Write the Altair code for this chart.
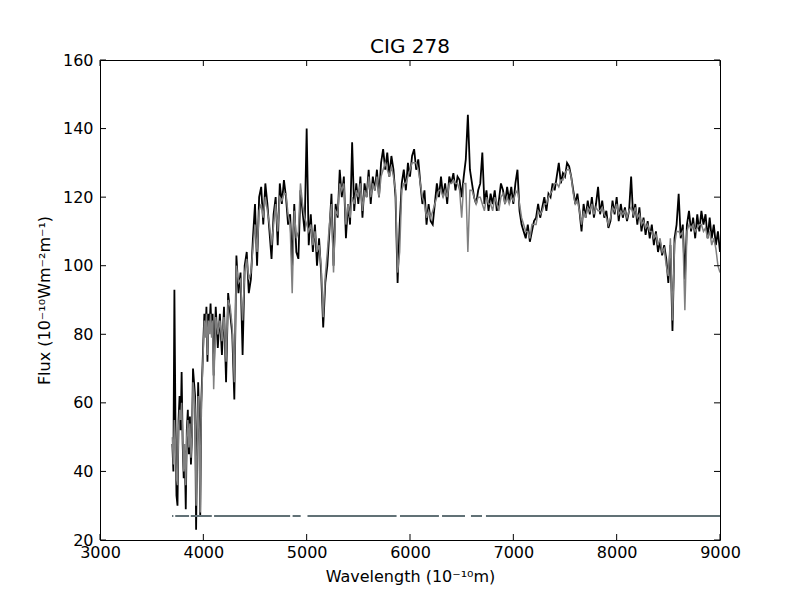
import altair as alt
import pandas as pd

# ---- spectrum data ----
wl_blue = list(range(3700, 4100, 10))
obs_blue = [48, 40, 93, 55, 33, 30, 55, 62, 52, 69,
            48, 38, 46, 29, 52, 58, 45, 56, 42, 50,
            70, 66, 62, 23, 48, 66, 55, 27, 60, 69,
            78, 86, 80, 88, 72, 86, 82, 89, 80, 86]
model_blue = [50, 42, 55, 48, 38, 36, 52, 58, 55, 60,
              50, 40, 48, 36, 50, 55, 47, 54, 44, 50,
              66, 63, 58, 30, 45, 62, 52, 28, 58, 67,
              76, 84, 79, 86, 74, 84, 80, 86, 79, 84]

wl_red = list(range(4100, 9001, 20))
obs_red = [
    68, 88, 76, 86, 74, 88, 66, 92, 86, 80,
    61, 103, 92, 98, 74, 100, 104, 92, 96, 108,
    118, 100, 120, 123, 112, 124, 118, 110, 102, 115,
    120, 106, 124, 118, 125, 120, 112, 115, 100, 118,
    104, 102, 122, 116, 110, 140, 106, 115, 104, 112,
    100, 108, 98, 82, 95, 100, 110, 121, 100, 118,
    114, 128, 120, 126, 108, 118, 112, 136, 116, 124,
    118, 126, 114, 124, 120, 128, 118, 126, 122, 128,
    120, 130, 134, 128, 133, 126, 132, 128, 120, 95,
    112, 124, 128, 122, 130, 126, 132, 134, 128, 131,
    124, 118, 122, 112, 118, 113, 112, 118, 124, 120,
    126, 120, 124, 118, 126, 124, 127, 122, 126, 125,
    120, 126, 131, 144, 128, 124, 120, 118, 122, 124,
    133, 118, 122, 116, 121, 118, 122, 116, 119, 124,
    122, 118, 123, 119, 123, 118, 124, 128, 116, 112,
    110, 108, 112, 107, 110, 113, 114, 118, 114, 117,
    120, 116, 121, 120, 124, 122, 126, 130, 124, 127,
    126, 130, 129, 126, 122, 118, 121, 116, 110, 118,
    114, 119, 115, 120, 114, 118, 123, 115, 119, 114,
    116, 111, 113, 119, 115, 120, 113, 118, 114, 117,
    113, 116, 126, 114, 118, 112, 117, 110, 114, 109,
    113, 108, 112, 106, 110, 104, 107, 103, 106, 102,
    95, 106, 81, 108, 112, 121, 108, 112, 96, 112,
    116, 110, 114, 108, 115, 110, 116, 112, 115, 108,
    114, 108, 112, 106, 110, 104]
model_red = [
    64, 85, 80, 84, 78, 85, 72, 90, 88, 82,
    66, 100, 95, 96, 84, 98, 102, 96, 98, 105,
    112, 104, 116, 118, 114, 120, 116, 112, 106, 112,
    118, 110, 120, 119, 121, 121, 115, 112, 92, 116,
    108, 110, 124, 118, 114, 112, 110, 112, 106, 110,
    104, 106, 100, 85, 97, 104, 112, 118, 98, 116,
    115, 124, 122, 124, 112, 118, 114, 120, 118, 122,
    120, 124, 116, 122, 120, 126, 120, 124, 122, 126,
    120, 126, 128, 130, 128, 126, 129, 126, 122, 98,
    104, 122, 124, 124, 126, 128, 130, 130, 130, 128,
    124, 120, 118, 114, 116, 114, 116, 118, 120, 122,
    122, 120, 122, 120, 124, 124, 125, 124, 124, 122,
    114, 124, 124, 104, 122, 122, 120, 118, 120, 120,
    118, 116, 120, 118, 118, 116, 120, 118, 116, 120,
    121, 118, 120, 118, 120, 119, 121, 122, 118, 114,
    112, 110, 110, 108, 112, 112, 112, 116, 115, 116,
    118, 118, 120, 121, 122, 124, 124, 123, 125, 125,
    127, 128, 128, 126, 121, 118, 119, 116, 112, 116,
    114, 117, 116, 118, 115, 117, 116, 116, 117, 115,
    114, 112, 114, 117, 116, 118, 115, 116, 115, 116,
    114, 116, 117, 115, 117, 114, 115, 112, 113, 111,
    112, 110, 110, 108, 109, 106, 108, 104, 105, 100,
    97, 108, 84, 106, 110, 110, 109, 110, 87, 110,
    112, 111, 112, 110, 111, 112, 112, 110, 111, 108,
    110, 106, 108, 105, 100, 98]

# masked-pixel indicator line (segments of good pixels)
mask_start = [3697, 3728, 3878, 4104, 4864, 5008, 5903, 6310, 6590, 6735]
mask_end = [3710, 3862, 4082, 4840, 4942, 5870, 6280, 6532, 6697, 9000]
mask_level = 27

x_ticks = [3000, 4000, 5000, 6000, 7000, 8000, 9000]
y_ticks = [20, 40, 60, 80, 100, 120, 140, 160]

W, H = 620, 480
FONT = "DejaVu Sans"

spec = pd.DataFrame({
    "wavelength": wl_blue + wl_red,
    "observed": obs_blue + obs_red,
    "model": model_blue + model_red,
})
mask_df = pd.DataFrame({"start": mask_start, "end": mask_end,
                        "level": [mask_level] * len(mask_start)})
xt = pd.DataFrame({"tick": x_ticks})
yt = pd.DataFrame({"tick": y_ticks})

xs = alt.Scale(domain=[3000, 9000], nice=False, zero=False)
ys = alt.Scale(domain=[20, 160], nice=False, zero=False)

x_axis = alt.Axis(values=x_ticks, format="d", ticks=False, domain=False, grid=False,
                  labelFont=FONT, labelFontSize=16, labelColor="black", labelPadding=4,
                  labelFlush=False, labelOverlap=False, labelBound=False,
                  title="Wavelength (10⁻¹⁰m)", titleFont=FONT, titleFontSize=16,
                  titleFontWeight="normal", titleColor="black", titlePadding=8)
y_axis = alt.Axis(values=y_ticks, format="d", ticks=False, domain=False, grid=False,
                  labelFont=FONT, labelFontSize=16, labelColor="black", labelPadding=7,
                  labelFlush=False, labelOverlap=False, labelBound=False,
                  title="Flux (10⁻¹⁰Wm⁻²m⁻¹)", titleFont=FONT, titleFontSize=16,
                  titleFontWeight="normal", titleColor="black", titlePadding=10)

obs_line = alt.Chart(spec).mark_line(color="black", strokeWidth=1.8, clip=True).encode(
    x=alt.X("wavelength:Q", scale=xs, axis=x_axis),
    y=alt.Y("observed:Q", scale=ys, axis=y_axis),
)
model_line = alt.Chart(spec).mark_line(color="#808080", strokeWidth=1.5, clip=True).encode(
    x=alt.X("wavelength:Q", scale=xs),
    y=alt.Y("model:Q", scale=ys),
)
mask_rules = alt.Chart(mask_df).mark_rule(color="#617176", strokeWidth=2, clip=True).encode(
    x=alt.X("start:Q", scale=xs), x2="end:Q", y=alt.Y("level:Q", scale=ys),
)

tick_len = 6
xt_bottom = alt.Chart(xt).mark_rule(color="black", strokeWidth=1).encode(
    x=alt.X("tick:Q", scale=xs), y=alt.value(H), y2=alt.value(H - tick_len))
xt_top = alt.Chart(xt).mark_rule(color="black", strokeWidth=1).encode(
    x=alt.X("tick:Q", scale=xs), y=alt.value(0), y2=alt.value(tick_len))
yt_left = alt.Chart(yt).mark_rule(color="black", strokeWidth=1).encode(
    y=alt.Y("tick:Q", scale=ys), x=alt.value(0), x2=alt.value(tick_len))
yt_right = alt.Chart(yt).mark_rule(color="black", strokeWidth=1).encode(
    y=alt.Y("tick:Q", scale=ys), x=alt.value(W), x2=alt.value(W - tick_len))

chart = alt.layer(
    obs_line, model_line, mask_rules, xt_bottom, xt_top, yt_left, yt_right
).properties(
    width=W, height=H,
    title=alt.TitleParams("CIG 278", font=FONT, fontSize=20, fontWeight="normal",
                          color="black", offset=-5),
    padding={"left": 92, "top": 52, "right": 72, "bottom": 50},
    autosize=alt.AutoSizeParams(type="none"),
).configure(
    background="white",
    view=alt.ViewConfig(stroke="black", strokeWidth=1),
)

chart.save("out.html", embed_options={"renderer": "svg", "actions": False})
